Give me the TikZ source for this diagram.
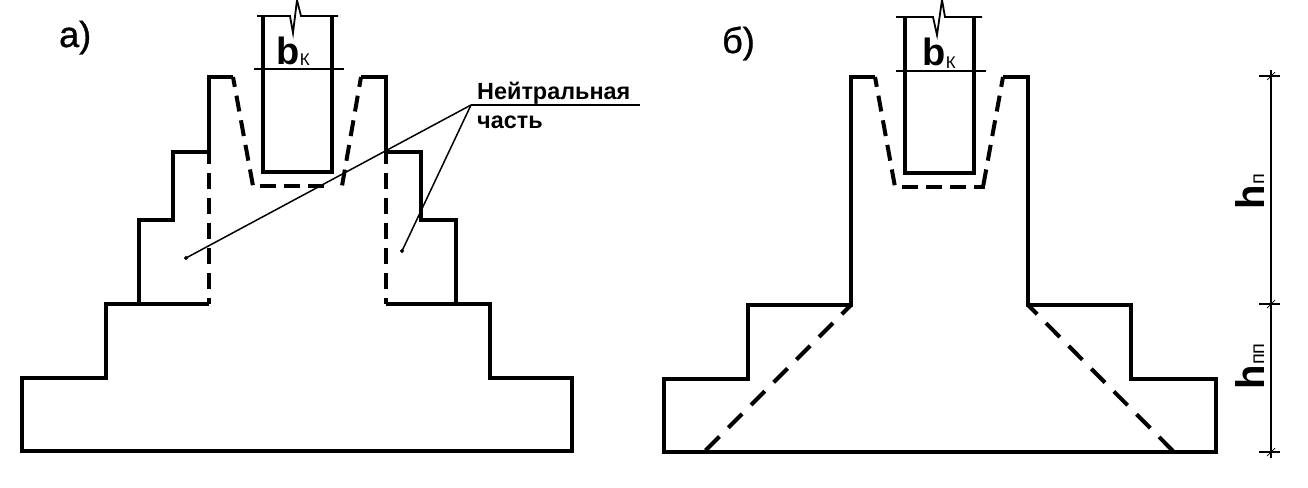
\documentclass[tikz,border=0pt]{standalone}
\usepackage{fontspec}
\setmainfont{Liberation Sans}
\newfontfamily\panelfont[FakeBold=1]{Liberation Sans}
\tikzset{
    outline/.style={line width=4pt, line join=miter},
    hidden/.style={line width=4pt, dash pattern=on 16pt off 9pt},
    hiddenslant/.style={hidden, dash phase=6pt},
    hiddenflat/.style={hidden, dash pattern=on 16pt off 8pt, dash phase=17pt},
    hiddendiag/.style={line width=4pt, dash pattern=on 19.5pt off 12.6pt, dash phase=6.5pt},
    thinline/.style={line width=1.8pt},
    leader/.style={line width=1.5pt},
    sizelabel/.style={font=\bfseries\fontsize{38}{38}\selectfont, inner sep=0pt},
    heightlabel/.style={font=\bfseries\fontsize{40}{40}\selectfont, inner sep=0pt},
    sublabel/.style={font=\fontsize{17}{17}\selectfont, inner sep=0pt},
    heightsub/.style={font=\fontsize{20}{20}\selectfont, inner sep=0pt},
    panel/.style={font=\panelfont\fontsize{36}{36}\selectfont, inner sep=0pt},
    note/.style={font=\bfseries\fontsize{23.4}{23.4}\selectfont, inner sep=0pt, anchor=base west}
}
\begin{document}
\begin{tikzpicture}[x=1pt, y=-1pt]
    \useasboundingbox (0, 0) rectangle (1308, 487);
    % panel a
    \draw[outline] (233, 77) -- (209, 77) -- (209, 152) -- (173, 152) -- (173, 220) -- (139, 220) -- (139, 304) -- (106, 304) -- (106, 378) -- (22, 378) -- (22, 451) -- (572, 451) -- (572, 378) -- (490, 378) -- (490, 304) -- (456, 304) -- (456, 220) -- (421, 220) -- (421, 152) -- (386, 152) -- (386, 77) -- (361, 77);
    \draw[outline] (106, 304) -- (209, 304);
    \draw[outline] (386, 304) -- (456, 304);
    \draw[hidden, dash phase=4pt] (209, 152) -- (209, 304);
    \draw[hidden, dash phase=4pt] (386, 152) -- (386, 304);
    \draw[hiddenslant] (233, 77) -- (253, 186);
    \draw[hiddenflat] (253, 186) -- (327, 186);
    \draw[hiddenslant] (361, 77) -- (342, 186);
    % column a
    \draw[outline] (263, 16) -- (263, 172) -- (332, 172) -- (332, 16);
    \draw[thinline] (257, 16) -- (290, 16) -- (293, 33) -- (297, 0) -- (301, 16) -- (338, 16);
    \draw[thinline] (254, 69) -- (344, 69);
    \node[sizelabel, anchor=base west] (bka) at (276, 64) {b};
    \node[sublabel, anchor=base west, yshift=-2pt] (ka) at (bka.base east) {К};
    % leaders
    \coordinate (knee) at (471, 105);
    \coordinate (tipleft) at (186, 258);
    \coordinate (tipright) at (402, 251);
    \filldraw[black] (tipleft) circle (1.8pt);
    \filldraw[black] (tipright) circle (1.8pt);
    \draw[leader] (tipleft) -- (knee);
    \draw[leader] (tipright) -- (knee);
    \coordinate (shelf) at (640, 105);
    \draw[thinline] (knee) -- (shelf);
    \node[note] (neutral) at (477, 99) {Нейтральная};
    \node[note] (part) at (477, 128) {часть};
    \node[panel, anchor=base west] (a) at (59, 47) {а)};
    % panel b
    \draw[outline] (875, 77) -- (851, 77) -- (851, 305) -- (748, 305) -- (748, 379) -- (664, 379) -- (664, 452) -- (1216, 452) -- (1216, 379) -- (1131, 379) -- (1131, 305) -- (1028, 305) -- (1028, 77) -- (1003, 77);
    \draw[hiddenslant] (875, 77) -- (895, 187);
    \draw[hiddenflat] (895, 187) -- (985, 187);
    \draw[hiddenslant] (1003, 77) -- (983, 187);
    \draw[hiddendiag] (851, 305) -- (704, 452);
    \draw[hiddendiag] (1028, 305) -- (1174, 452);
    % column b
    \draw[outline] (905, 17) -- (905, 173) -- (974, 173) -- (974, 17);
    \draw[thinline] (896, 17) -- (933, 17) -- (937, 35) -- (942, 0) -- (945, 17) -- (982, 17);
    \draw[thinline] (896, 71) -- (986, 71);
    \node[sizelabel, anchor=base west] (bkb) at (922, 66) {b};
    \node[sublabel, anchor=base west, yshift=-2pt] (kb) at (bkb.base east) {К};
    \node[panel, anchor=base west] (b) at (722, 53) {б)};
    % size line
    \coordinate (top) at (1271, 70);
    \coordinate (bot) at (1271, 458);
    \draw[thinline] (top) -- (bot);
    \foreach \y in {76, 304, 452} {
        \draw[thinline] (1259, \y) -- (1280, \y);
        \draw[line width=0.7pt] (1267, \y + 4) -- (1275, \y - 4);
    }
    \node[heightlabel, rotate=90, anchor=base west] (hp) at (1264, 210) {h};
    \node[heightsub, rotate=90, anchor=base west] (p) at (hp.base east) {п};
    \node[heightlabel, rotate=90, anchor=base west] (hpp) at (1264, 390) {h};
    \node[heightsub, rotate=90, anchor=base west] (pp) at (hpp.base east) {пп};
\end{tikzpicture}
\end{document}
